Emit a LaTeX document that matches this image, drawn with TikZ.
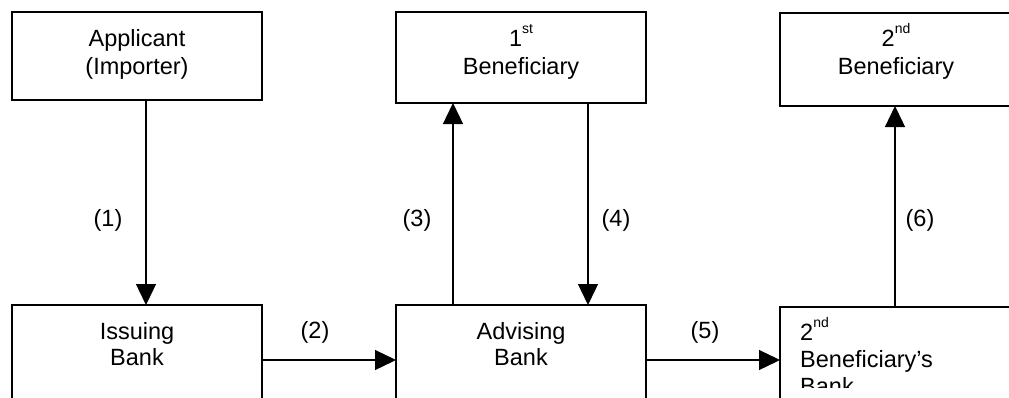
\documentclass[tikz,border=0pt]{standalone}
\usepackage{fontspec}
\setmainfont{Liberation Sans}
\usetikzlibrary{arrows.meta}
\newcommand\supx[1]{\raisebox{12.5pt}{\fontsize{14}{14}\selectfont #1}}
\tikzset{
  box/.style={draw, line width=1.5pt, inner sep=0pt, outer sep=0pt, anchor=north west},
  txt/.style={inner sep=0pt, outer sep=0pt, anchor=base, align=center},
  topfont/.style={font=\fontsize{23.5}{28}\selectfont},
  botfont/.style={font=\fontsize{23.5}{26}\selectfont},
  arr/.style={line width=1.3pt, -{Triangle[length=21pt,width=20pt]}},
  num/.style={inner sep=0pt, font=\fontsize{23.5}{28}\selectfont}
}
\begin{document}
\begin{tikzpicture}[x=1pt,y=-1pt]
\useasboundingbox (0,0) rectangle (1009,397);
% boxes
\node[box, minimum width=250pt, minimum height=88pt] (app) at (12,12) {};
\node[box, minimum width=250pt, minimum height=91pt] (ben1) at (396,12) {};
\node[box, minimum width=232pt, minimum height=93pt] (ben2) at (780,13) {};
\node[box, minimum width=250pt, minimum height=95pt] (iss) at (12,305) {};
\node[box, minimum width=250pt, minimum height=95pt] (adv) at (396,305) {};
\node[box, minimum width=232pt, minimum height=95pt] (bbank) at (780,307) {};
% texts (base anchor = baseline of last line)
\node[txt, topfont] (tapp) at (137,74) {Applicant\\(Importer)};
\node[txt, topfont] (tben1) at (521,74) {1\supx{st}\\Beneficiary};
\node[txt, topfont] (tben2) at (896,74) {2\supx{nd}\\Beneficiary};
\node[txt, botfont] (tiss) at (137,365) {Issuing\\Bank};
\node[txt, botfont] (tadv) at (521,365) {Advising\\Bank};
\begin{scope}
\clip (781,308) rectangle (1009,387);
\node[inner sep=0pt, anchor=base west, align=left, font=\fontsize{23.5}{27}\selectfont] (tbb) at (800,394) {2\supx{nd}\\Beneficiary’s\\Bank};
\end{scope}
% connectors
\draw[arr] (app.south -| 146,0) -- (iss.north -| 146,0);
\draw[arr] (iss.east |- 0,360) -- (adv.west |- 0,360);
\draw[arr] (adv.north -| 453,0) -- (ben1.south -| 453,0);
\draw[arr] (ben1.south -| 588,0) -- (adv.north -| 588,0);
\draw[arr] (adv.east |- 0,360) -- (bbank.west |- 0,360);
\draw[arr] (bbank.north -| 895,0) -- (ben2.south -| 895,0);
% labels
\node[num] (l1) at (108,220) {(1)};
\node[num] (l2) at (315,332) {(2)};
\node[num] (l3) at (417,220) {(3)};
\node[num] (l4) at (616,220) {(4)};
\node[num] (l5) at (705,332) {(5)};
\node[num] (l6) at (920,220) {(6)};
\end{tikzpicture}
\end{document}
